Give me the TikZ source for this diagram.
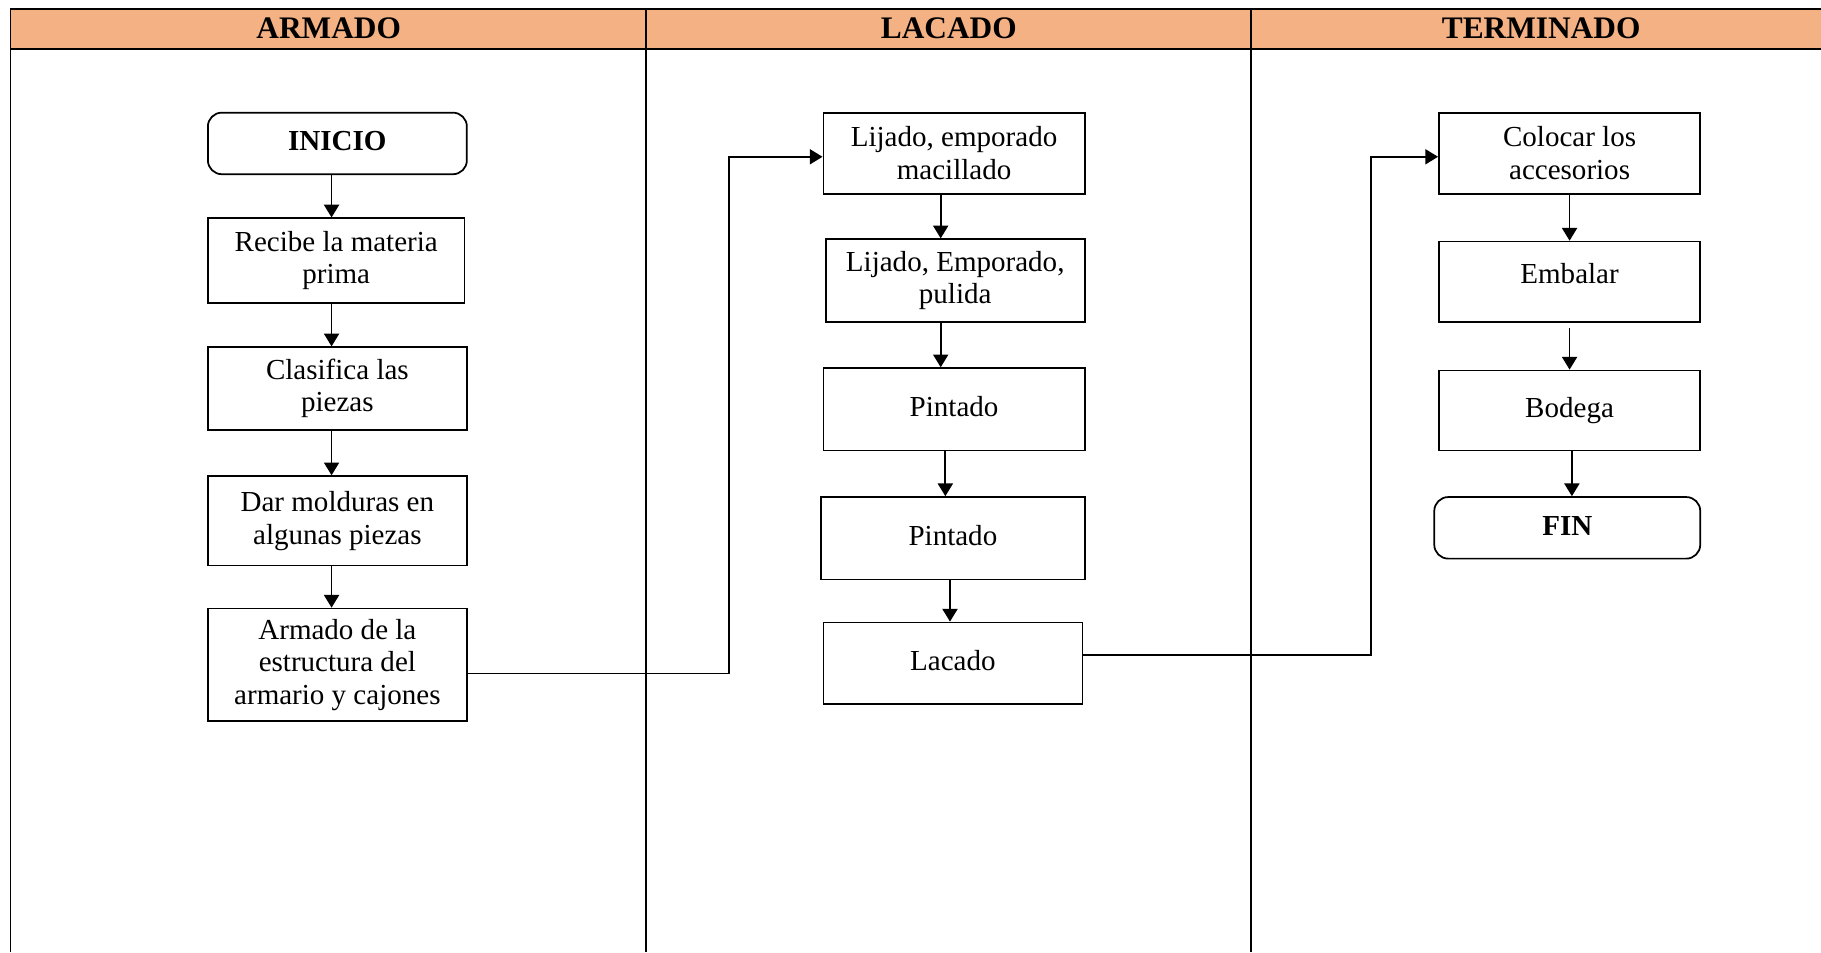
\documentclass[tikz,border=0pt]{standalone}
\usepackage{fontspec}
\setmainfont{Liberation Serif}
\usetikzlibrary{arrows.meta,calc}
\definecolor{hdr}{HTML}{F4B183}
\begin{document}
\begin{tikzpicture}[x=0.5pt,y=-0.5pt,
  every node/.style={font=\fontsize{12.5}{14}\selectfont, align=center, inner sep=0pt},
  box/.style={draw, line width=0.75pt},
  term/.style={draw, line width=0.75pt, rounded corners=6pt, font=\fontsize{12.5}{14}\selectfont\bfseries},
  hd/.style={font=\fontsize{13.5}{15}\selectfont\bfseries},
  lane/.style={line width=0.75pt},
  arr/.style={line width=0.75pt, -{Triangle[length=5.5pt,width=6.5pt]}}]
\useasboundingbox (0,0) rectangle (1568,820);
% lanes
\fill[hdr] (9,8) rectangle (1568,42);
\draw[lane] (1568,8) -- (9,8) -- (9,820);
\draw[lane] (9,42) -- (1568,42);
\draw[lane] (556,8) -- (556,820);
\draw[lane] (1077,8) -- (1077,820);
\node[hd] (h1) at (283,24) {ARMADO};
\node[hd] (h2) at (817,24) {LACADO};
\node[hd] (h3) at (1327,24) {TERMINADO};
% ARMADO
\node[term, minimum width=111.5pt, minimum height=26.5pt] (ini) at (290.5,123.5) {\raisebox{1pt}[\height][\depth]{INICIO}};
\node[box, minimum width=110.5pt, minimum height=36.5pt] (rec) at (289.5,224.5) {Recibe la materia\\prima};
\node[box, minimum width=111.5pt, minimum height=35.5pt] (cla) at (290.5,334.5) {Clasifica las\\piezas};
\node[box, minimum width=111.5pt, minimum height=38.5pt] (dar) at (290.5,448.5) {Dar molduras en\\algunas piezas};
\node[box, minimum width=111.5pt, minimum height=48.5pt] (arm) at (290.5,572.5) {Armado de la\\estructura del\\armario y cajones};
% LACADO
\node[box, minimum width=112.5pt, minimum height=35pt] (lij1) at (821.5,132) {Lijado, emporado\\macillado};
\node[box, minimum width=111.5pt, minimum height=35.5pt] (lij2) at (822.5,241.5) {Lijado, Emporado,\\pulida};
\node[box, minimum width=112.5pt, minimum height=35.5pt] (pin1) at (821.5,352.5) {\raisebox{1pt}[\height][\depth]{Pintado}};
\node[box, minimum width=113.5pt, minimum height=35.5pt] (pin2) at (820.5,463.5) {\raisebox{1pt}[\height][\depth]{Pintado}};
\node[box, minimum width=111.5pt, minimum height=35pt] (lac) at (820.5,571) {\raisebox{1pt}[\height][\depth]{Lacado}};
% TERMINADO
\node[box, minimum width=112.5pt, minimum height=35pt] (col) at (1351.5,132) {Colocar los\\accesorios};
\node[box, minimum width=112.5pt, minimum height=34.5pt] (emb) at (1351.5,242.5) {\raisebox{3.5pt}[\height][\depth]{Embalar}};
\node[box, minimum width=112.5pt, minimum height=34.5pt] (bod) at (1351.5,353.5) {Bodega};
\node[term, minimum width=114.5pt, minimum height=26.5pt] (fin) at (1349.5,454.5) {\raisebox{1pt}[\height][\depth]{FIN}};
% arrows
\draw[arr] ([xshift=-2.5pt]ini.south) -- ([xshift=-2.5pt]ini.south |- rec.north);
\draw[arr] ([xshift=-2pt]rec.south) -- ([xshift=-2pt]rec.south |- cla.north);
\draw[arr] ([xshift=-2.5pt]cla.south) -- ([xshift=-2.5pt]cla.south |- dar.north);
\draw[arr] ([xshift=-2.5pt]dar.south) -- ([xshift=-2.5pt]dar.south |- arm.north);
\draw[arr] ([xshift=-5.75pt]lij1.south) -- ([xshift=-5.75pt]lij1.south |- lij2.north);
\draw[arr] ([xshift=-6.25pt]lij2.south) -- ([xshift=-6.25pt]lij2.south |- pin1.north);
\draw[arr] ([xshift=-3.75pt]pin1.south) -- ([xshift=-3.75pt]pin1.south |- pin2.north);
\draw[arr] ([xshift=-1.25pt]pin2.south) -- ([xshift=-1.25pt]pin2.south |- lac.north);
\draw[arr] (col.south) -- (col.south |- emb.north);
\draw[arr] ([yshift=-2.5pt]emb.south) -- (emb.south |- bod.north);
\draw[arr] ([xshift=1pt]bod.south) -- ([xshift=1pt]bod.south |- fin.north);
\draw[arr] ([yshift=-3.75pt]arm.east) -- ++(225,0) |- ([yshift=-1.5pt]lij1.west);
\draw[arr] ([yshift=3.5pt]lac.east) -- ++(248,0) |- ([yshift=-1.5pt]col.west);
\end{tikzpicture}
\end{document}
